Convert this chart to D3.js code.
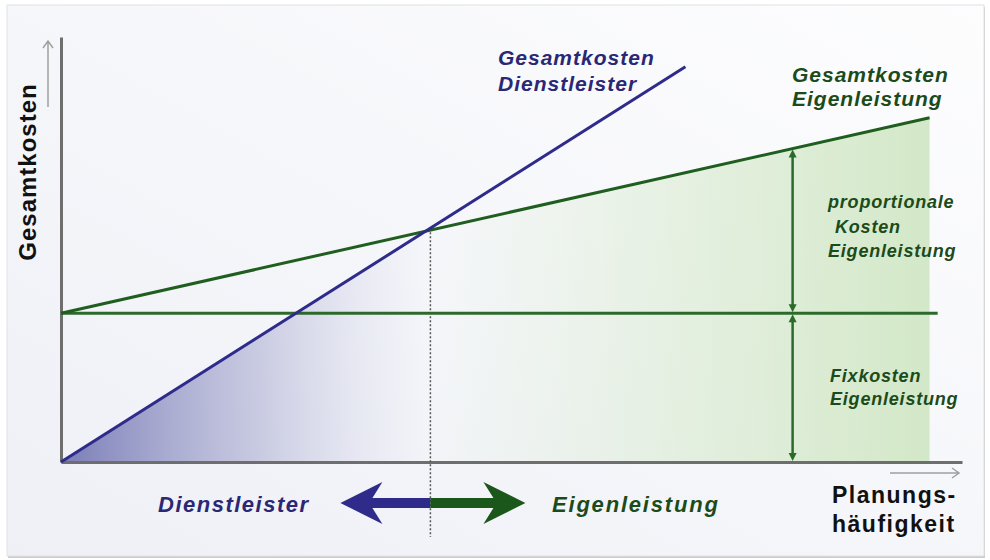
<!DOCTYPE html>
<meta charset="utf-8">
<style>
body { margin: 0; background: #fff; }
text { font-family: "Liberation Sans", Arial, sans-serif; font-weight: bold; }
.lbl { font-style: italic; }
.axis path { stroke: #6e6e6e; stroke-width: 3; }
.axis .tick { display: none; }
</style>
<svg width="990" height="560"></svg>
<script src="https://d3js.org/d3.v7.min.js"></script>
<script>
// Planungshäufigkeit (0..100) vs. Gesamtkosten (0..100)
var dienstleister = [{x: 0, y: 0}, {x: 69.3, y: 93}];
var eigenTotal = [{x: 0, y: 35}, {x: 96.4, y: 81}];
var fixkosten = [{x: 0, y: 35}, {x: 97.3, y: 35}];
var breakEven = {x: 41, y: 55};
var markerX = 81.2;   // where the cost brackets sit

var svg = d3.select("svg");
var defs = svg.append("defs");

var x = d3.scaleLinear().domain([0, 100]).range([61, 962]),
    y = d3.scaleLinear().domain([0, 100]).range([462, 37]);

var blue = "#2e2b8a", green = "#1f5e1f", blueText = "#2a2774", greenText = "#1b4b1b";

// card background
var bg = defs.append("linearGradient").attr("id", "bg")
    .attr("x1", 0).attr("y1", 1).attr("x2", 1).attr("y2", 0);
bg.append("stop").attr("offset", 0).attr("stop-color", "#eef0f6");
bg.append("stop").attr("offset", 1).attr("stop-color", "#fdfdfe");
svg.append("rect").attr("x", 8).attr("y", 7).attr("width", 977).attr("height", 551)
    .attr("fill", "#9a9a9a").attr("opacity", 0.5);
svg.append("rect").attr("x", 7).attr("y", 5).attr("width", 977).attr("height", 551)
    .attr("fill", "url(#bg)").attr("stroke", "#e2e2e6");

// gradient fills
var gb = defs.append("linearGradient").attr("id", "gblue").attr("gradientUnits", "userSpaceOnUse")
    .attr("x1", x(0)).attr("x2", x(breakEven.x)).attr("y1", 0).attr("y2", 0);
gb.append("stop").attr("offset", 0).attr("stop-color", "#6d70b0").attr("stop-opacity", 0.9);
gb.append("stop").attr("offset", 0.55).attr("stop-color", "#9a9cc8").attr("stop-opacity", 0.45);
gb.append("stop").attr("offset", 1).attr("stop-color", "#c8c9e2").attr("stop-opacity", 0);

var gg = defs.append("linearGradient").attr("id", "ggreen").attr("gradientUnits", "userSpaceOnUse")
    .attr("x1", x(breakEven.x)).attr("x2", x(eigenTotal[1].x)).attr("y1", 0).attr("y2", 0);
gg.append("stop").attr("offset", 0).attr("stop-color", "#d3e8c8").attr("stop-opacity", 0);
gg.append("stop").attr("offset", 1).attr("stop-color", "#d3e8c8").attr("stop-opacity", 1);

var area = d3.line().x(function(d) { return x(d.x); }).y(function(d) { return y(d.y); });

svg.append("path")
    .attr("d", area([dienstleister[0], breakEven, {x: breakEven.x, y: 0}]) + "Z")
    .attr("fill", "url(#gblue)");
svg.append("path")
    .attr("d", area([{x: breakEven.x, y: 0}, breakEven, eigenTotal[1], {x: eigenTotal[1].x, y: 0}]) + "Z")
    .attr("fill", "url(#ggreen)");

// axes
svg.append("g").attr("class", "axis")
    .attr("transform", "translate(" + x(0) + ",0)")
    .call(d3.axisLeft(y).ticks(0).tickSizeOuter(0));
svg.append("g").attr("class", "axis")
    .attr("transform", "translate(0," + y(0) + ")")
    .call(d3.axisBottom(x).ticks(0).tickSizeOuter(0));

// small direction arrows next to the axes
svg.append("path").attr("d", "M48,107V41M43,48L48,41L53,48")
    .attr("fill", "none").attr("stroke", "#a0a0a0").attr("stroke-width", 1.5);
svg.append("path").attr("d", "M890,473H959M952,468L959,473L952,478")
    .attr("fill", "none").attr("stroke", "#a0a0a0").attr("stroke-width", 1.5);

// dotted break-even line
svg.append("line")
    .attr("x1", x(breakEven.x)).attr("x2", x(breakEven.x))
    .attr("y1", y(breakEven.y)).attr("y2", 537)
    .attr("stroke", "#555").attr("stroke-width", 1.5).attr("stroke-dasharray", "2,2");

// cost lines
svg.append("path").attr("d", area(fixkosten)).attr("stroke", "#2c6a2c").attr("stroke-width", 3).attr("fill", "none");
svg.append("path").attr("d", area(eigenTotal)).attr("stroke", green).attr("stroke-width", 3).attr("fill", "none");
svg.append("path").attr("d", area(dienstleister)).attr("stroke", blue).attr("stroke-width", 3).attr("fill", "none");

// brackets: proportional and fixed cost
var mx = x(markerX);
var totalAtMarker = eigenTotal[0].y + (eigenTotal[1].y - eigenTotal[0].y) / eigenTotal[1].x * markerX;
function vArrow(y1, y2) {
  svg.append("line").attr("x1", mx).attr("x2", mx).attr("y1", y1 + 7).attr("y2", y2 - 7)
      .attr("stroke", "#2a6a2a").attr("stroke-width", 2.5);
  svg.append("path").attr("d", "M" + (mx - 4) + "," + (y1 + 9) + "L" + mx + "," + (y1 + 1) + "L" + (mx + 4) + "," + (y1 + 9) + "Z")
      .attr("fill", "#2a6a2a");
  svg.append("path").attr("d", "M" + (mx - 4) + "," + (y2 - 9) + "L" + mx + "," + (y2 - 1) + "L" + (mx + 4) + "," + (y2 - 9) + "Z")
      .attr("fill", "#2a6a2a");
}
vArrow(y(totalAtMarker), y(fixkosten[0].y));
vArrow(y(fixkosten[0].y), y(0));

// big double arrow under the chart
var cx = x(breakEven.x), cy = 503;
svg.append("path")
    .attr("d", "M" + cx + "," + (cy - 5) + "H" + (cx - 58) + "L" + (cx - 48) + "," + (cy - 21) +
        "L" + (cx - 90) + "," + cy + "L" + (cx - 48) + "," + (cy + 21) + "L" + (cx - 58) + "," + (cy + 5) +
        "H" + cx + "Z")
    .attr("fill", blue);
svg.append("path")
    .attr("d", "M" + cx + "," + (cy - 5) + "H" + (cx + 63) + "L" + (cx + 53) + "," + (cy - 21) +
        "L" + (cx + 95) + "," + cy + "L" + (cx + 53) + "," + (cy + 21) + "L" + (cx + 63) + "," + (cy + 5) +
        "H" + cx + "Z")
    .attr("fill", "#1b561b");

// texts
var labels = [
  {t: "Gesamtkosten", x: 498, y: 65, c: blueText, s: 21, ls: 1},
  {t: "Dienstleister", x: 498, y: 91, c: blueText, s: 21, ls: 1},
  {t: "Gesamtkosten", x: 792, y: 82, c: greenText, s: 21, ls: 1},
  {t: "Eigenleistung", x: 792, y: 106, c: greenText, s: 21, ls: 1},
  {t: "proportionale", x: 828, y: 208, c: greenText, s: 18, ls: 0.8},
  {t: "Kosten", x: 835, y: 233, c: greenText, s: 18, ls: 0.8},
  {t: "Eigenleistung", x: 828, y: 257, c: greenText, s: 18, ls: 0.8},
  {t: "Fixkosten", x: 830, y: 382, c: greenText, s: 18, ls: 0.8},
  {t: "Eigenleistung", x: 830, y: 405, c: greenText, s: 18, ls: 0.8},
  {t: "Dienstleister", x: 158, y: 512, c: blueText, s: 22, ls: 1.5},
  {t: "Eigenleistung", x: 552, y: 512, c: greenText, s: 22, ls: 1.8}
];
svg.selectAll("text.lbl").data(labels).enter().append("text")
    .attr("class", "lbl")
    .attr("x", function(d) { return d.x; })
    .attr("y", function(d) { return d.y; })
    .attr("fill", function(d) { return d.c; })
    .style("font-size", function(d) { return d.s + "px"; })
    .style("letter-spacing", function(d) { return d.ls + "px"; })
    .text(function(d) { return d.t; });

svg.append("text")
    .attr("transform", "translate(36,172) rotate(-90)")
    .attr("text-anchor", "middle")
    .style("font-size", "24px").style("letter-spacing", "1px")
    .attr("fill", "#111")
    .text("Gesamtkosten");
svg.append("text").attr("x", 832).attr("y", 503)
    .style("font-size", "23px").style("letter-spacing", "1.5px").attr("fill", "#111")
    .text("Planungs-");
svg.append("text").attr("x", 832).attr("y", 532)
    .style("font-size", "23px").style("letter-spacing", "1.5px").attr("fill", "#111")
    .text("häufigkeit");
</script>
